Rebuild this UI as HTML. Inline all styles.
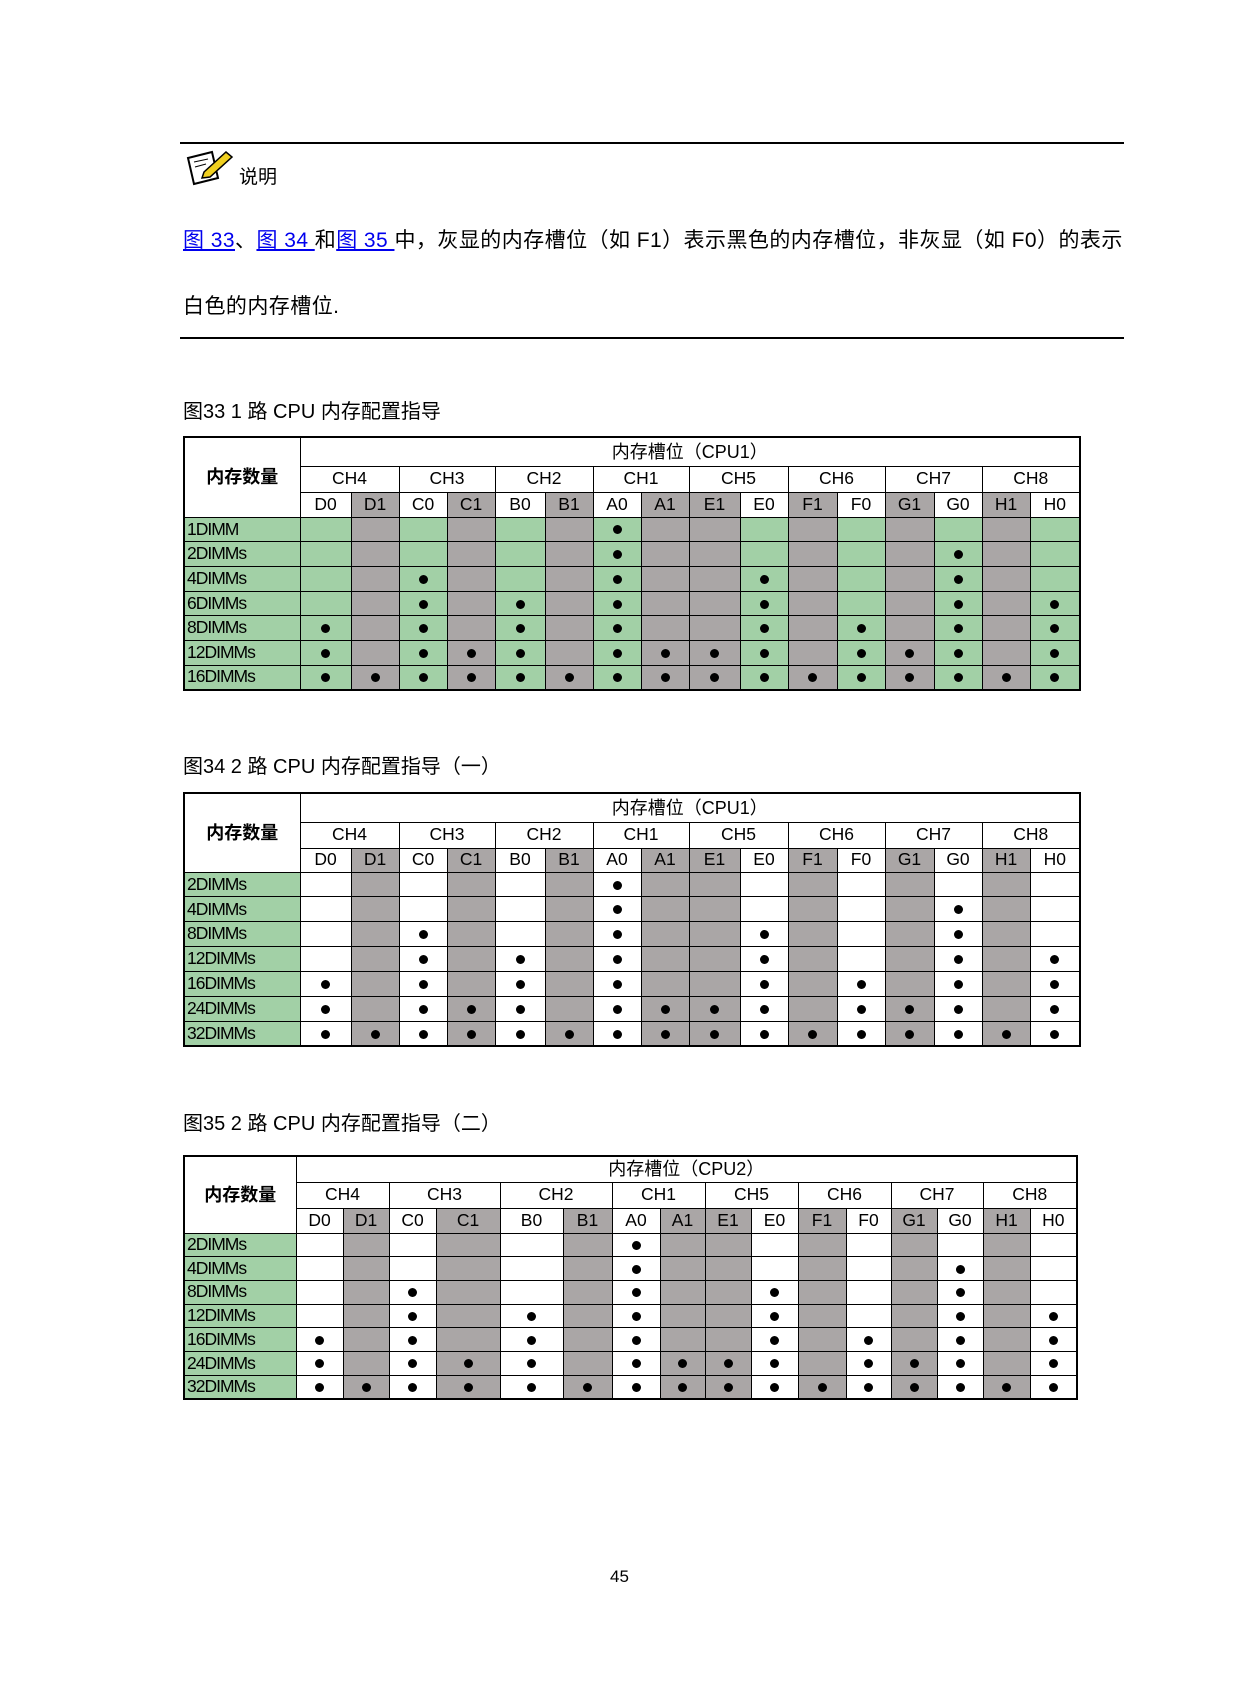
<!DOCTYPE html>
<html><head><meta charset="utf-8">
<style>
html,body{margin:0;padding:0;background:#fff;}
body{width:1240px;height:1683px;position:relative;overflow:hidden;font-family:"Liberation Sans","Noto Sans CJK SC",sans-serif;color:#000;}
.abs{position:absolute;white-space:nowrap;}
.rule{position:absolute;left:180px;width:944px;height:2px;background:#000;}
a{color:#0000ee;text-decoration:underline;}
table{position:absolute;border-collapse:collapse;table-layout:fixed;border:2px solid #000;font-size:17.5px;}
td{border:1.5px solid #000;padding:0;text-align:center;vertical-align:middle;line-height:1;overflow:hidden;white-space:nowrap;}
td.g{background:#aaa6a6;}
td.h{font-weight:bold;font-size:18px;}
td.cpu{font-size:18px;}
.t1 tr.d td{background:#a2d0a6;}
tr.d td:nth-child(3),tr.d td:nth-child(5),tr.d td:nth-child(7),tr.d td:nth-child(9),tr.d td:nth-child(10),tr.d td:nth-child(12),tr.d td:nth-child(14),tr.d td:nth-child(16){background:#aaa6a6 !important;}
tr.d td:first-child{background:#a2d0a6 !important;text-align:left;letter-spacing:-1px;padding-left:2px;}
i{display:inline-block;width:9px;height:9px;border-radius:50%;background:#000;vertical-align:middle;}
</style></head><body>

<div class="rule" style="top:142px"></div>
<svg class="abs" style="left:186px;top:148px" width="50" height="38" viewBox="0 0 50 38">
<polygon points="2,10 26,4 32,30 8,36" fill="#fff" stroke="#000" stroke-width="2"/>
<line x1="8" y1="14" x2="22" y2="11" stroke="#000"/><line x1="9" y1="19" x2="20" y2="16" stroke="#000"/>
<polygon points="18,24 40,4 46,9 24,29 16,30" fill="#f0d020" stroke="#000" stroke-width="1.5"/>
</svg>
<div class="abs" style="left:239px;top:162px;font-size:19px">说明</div>
<div class="abs" style="left:183px;top:224px;font-size:21px;letter-spacing:0.45px"><a>图 33</a>、<a>图 34 </a>和<a>图 35 </a>中，灰显的内存槽位（如 F1）表示黑色的内存槽位，非灰显（如 F0）的表示</div>
<div class="abs" style="left:183px;top:290px;font-size:21px;letter-spacing:0.45px">白色的内存槽位.</div>
<div class="rule" style="top:337px"></div>

<div class="abs" style="left:183px;top:395px;font-size:20px">图33 1 路 CPU 内存配置指导</div>
<table class="t1" style="left:183px;top:436px;width:897px">
<colgroup><col style="width:116px"><col style="width:51px"><col style="width:48px"><col style="width:48px"><col style="width:48px"><col style="width:50px"><col style="width:48px"><col style="width:48px"><col style="width:48px"><col style="width:51px"><col style="width:48px"><col style="width:49px"><col style="width:48px"><col style="width:49px"><col style="width:48px"><col style="width:48px"><col style="width:50px"></colgroup>
<tr style="height:29px"><td rowspan="3" class="h">内存数量</td><td colspan="16" class="cpu">内存槽位（CPU1）</td></tr>
<tr style="height:26px"><td colspan="2">CH4</td><td colspan="2">CH3</td><td colspan="2">CH2</td><td colspan="2">CH1</td><td colspan="2">CH5</td><td colspan="2">CH6</td><td colspan="2">CH7</td><td colspan="2">CH8</td></tr>
<tr style="height:25px"><td>D0</td><td class="g">D1</td><td>C0</td><td class="g">C1</td><td>B0</td><td class="g">B1</td><td>A0</td><td class="g">A1</td><td class="g">E1</td><td>E0</td><td class="g">F1</td><td>F0</td><td class="g">G1</td><td>G0</td><td class="g">H1</td><td>H0</td></tr>
<tr class="d" style="height:24.7px"><td>1DIMM</td><td></td><td></td><td></td><td></td><td></td><td></td><td><i></i></td><td></td><td></td><td></td><td></td><td></td><td></td><td></td><td></td><td></td></tr>
<tr class="d" style="height:24.7px"><td>2DIMMs</td><td></td><td></td><td></td><td></td><td></td><td></td><td><i></i></td><td></td><td></td><td></td><td></td><td></td><td></td><td><i></i></td><td></td><td></td></tr>
<tr class="d" style="height:24.7px"><td>4DIMMs</td><td></td><td></td><td><i></i></td><td></td><td></td><td></td><td><i></i></td><td></td><td></td><td><i></i></td><td></td><td></td><td></td><td><i></i></td><td></td><td></td></tr>
<tr class="d" style="height:24.7px"><td>6DIMMs</td><td></td><td></td><td><i></i></td><td></td><td><i></i></td><td></td><td><i></i></td><td></td><td></td><td><i></i></td><td></td><td></td><td></td><td><i></i></td><td></td><td><i></i></td></tr>
<tr class="d" style="height:24.7px"><td>8DIMMs</td><td><i></i></td><td></td><td><i></i></td><td></td><td><i></i></td><td></td><td><i></i></td><td></td><td></td><td><i></i></td><td></td><td><i></i></td><td></td><td><i></i></td><td></td><td><i></i></td></tr>
<tr class="d" style="height:24.7px"><td>12DIMMs</td><td><i></i></td><td></td><td><i></i></td><td><i></i></td><td><i></i></td><td></td><td><i></i></td><td><i></i></td><td><i></i></td><td><i></i></td><td></td><td><i></i></td><td><i></i></td><td><i></i></td><td></td><td><i></i></td></tr>
<tr class="d" style="height:24.7px"><td>16DIMMs</td><td><i></i></td><td><i></i></td><td><i></i></td><td><i></i></td><td><i></i></td><td><i></i></td><td><i></i></td><td><i></i></td><td><i></i></td><td><i></i></td><td><i></i></td><td><i></i></td><td><i></i></td><td><i></i></td><td><i></i></td><td><i></i></td></tr>
</table>

<div class="abs" style="left:183px;top:750px;font-size:20px">图34 2 路 CPU 内存配置指导（一）</div>
<table class="t2" style="left:183px;top:792px;width:897px">
<colgroup><col style="width:116px"><col style="width:51px"><col style="width:48px"><col style="width:48px"><col style="width:48px"><col style="width:50px"><col style="width:48px"><col style="width:48px"><col style="width:48px"><col style="width:51px"><col style="width:48px"><col style="width:49px"><col style="width:48px"><col style="width:49px"><col style="width:48px"><col style="width:48px"><col style="width:50px"></colgroup>
<tr style="height:29px"><td rowspan="3" class="h">内存数量</td><td colspan="16" class="cpu">内存槽位（CPU1）</td></tr>
<tr style="height:26px"><td colspan="2">CH4</td><td colspan="2">CH3</td><td colspan="2">CH2</td><td colspan="2">CH1</td><td colspan="2">CH5</td><td colspan="2">CH6</td><td colspan="2">CH7</td><td colspan="2">CH8</td></tr>
<tr style="height:24px"><td>D0</td><td class="g">D1</td><td>C0</td><td class="g">C1</td><td>B0</td><td class="g">B1</td><td>A0</td><td class="g">A1</td><td class="g">E1</td><td>E0</td><td class="g">F1</td><td>F0</td><td class="g">G1</td><td>G0</td><td class="g">H1</td><td>H0</td></tr>
<tr class="d" style="height:24.9px"><td>2DIMMs</td><td></td><td></td><td></td><td></td><td></td><td></td><td><i></i></td><td></td><td></td><td></td><td></td><td></td><td></td><td></td><td></td><td></td></tr>
<tr class="d" style="height:24.9px"><td>4DIMMs</td><td></td><td></td><td></td><td></td><td></td><td></td><td><i></i></td><td></td><td></td><td></td><td></td><td></td><td></td><td><i></i></td><td></td><td></td></tr>
<tr class="d" style="height:24.9px"><td>8DIMMs</td><td></td><td></td><td><i></i></td><td></td><td></td><td></td><td><i></i></td><td></td><td></td><td><i></i></td><td></td><td></td><td></td><td><i></i></td><td></td><td></td></tr>
<tr class="d" style="height:24.9px"><td>12DIMMs</td><td></td><td></td><td><i></i></td><td></td><td><i></i></td><td></td><td><i></i></td><td></td><td></td><td><i></i></td><td></td><td></td><td></td><td><i></i></td><td></td><td><i></i></td></tr>
<tr class="d" style="height:24.9px"><td>16DIMMs</td><td><i></i></td><td></td><td><i></i></td><td></td><td><i></i></td><td></td><td><i></i></td><td></td><td></td><td><i></i></td><td></td><td><i></i></td><td></td><td><i></i></td><td></td><td><i></i></td></tr>
<tr class="d" style="height:24.9px"><td>24DIMMs</td><td><i></i></td><td></td><td><i></i></td><td><i></i></td><td><i></i></td><td></td><td><i></i></td><td><i></i></td><td><i></i></td><td><i></i></td><td></td><td><i></i></td><td><i></i></td><td><i></i></td><td></td><td><i></i></td></tr>
<tr class="d" style="height:24.9px"><td>32DIMMs</td><td><i></i></td><td><i></i></td><td><i></i></td><td><i></i></td><td><i></i></td><td><i></i></td><td><i></i></td><td><i></i></td><td><i></i></td><td><i></i></td><td><i></i></td><td><i></i></td><td><i></i></td><td><i></i></td><td><i></i></td><td><i></i></td></tr>
</table>

<div class="abs" style="left:183px;top:1107px;font-size:20px">图35 2 路 CPU 内存配置指导（二）</div>
<table class="t3" style="left:183px;top:1155px;width:893px">
<colgroup><col style="width:112px"><col style="width:47px"><col style="width:46px"><col style="width:47px"><col style="width:64px"><col style="width:63px"><col style="width:49px"><col style="width:48px"><col style="width:45px"><col style="width:46px"><col style="width:47px"><col style="width:48px"><col style="width:45px"><col style="width:46px"><col style="width:46px"><col style="width:47px"><col style="width:47px"></colgroup>
<tr style="height:26px"><td rowspan="3" class="h">内存数量</td><td colspan="16" class="cpu">内存槽位（CPU2）</td></tr>
<tr style="height:26px"><td colspan="2">CH4</td><td colspan="2">CH3</td><td colspan="2">CH2</td><td colspan="2">CH1</td><td colspan="2">CH5</td><td colspan="2">CH6</td><td colspan="2">CH7</td><td colspan="2">CH8</td></tr>
<tr style="height:25px"><td>D0</td><td class="g">D1</td><td>C0</td><td class="g">C1</td><td>B0</td><td class="g">B1</td><td>A0</td><td class="g">A1</td><td class="g">E1</td><td>E0</td><td class="g">F1</td><td>F0</td><td class="g">G1</td><td>G0</td><td class="g">H1</td><td>H0</td></tr>
<tr class="d" style="height:23.7px"><td>2DIMMs</td><td></td><td></td><td></td><td></td><td></td><td></td><td><i></i></td><td></td><td></td><td></td><td></td><td></td><td></td><td></td><td></td><td></td></tr>
<tr class="d" style="height:23.7px"><td>4DIMMs</td><td></td><td></td><td></td><td></td><td></td><td></td><td><i></i></td><td></td><td></td><td></td><td></td><td></td><td></td><td><i></i></td><td></td><td></td></tr>
<tr class="d" style="height:23.7px"><td>8DIMMs</td><td></td><td></td><td><i></i></td><td></td><td></td><td></td><td><i></i></td><td></td><td></td><td><i></i></td><td></td><td></td><td></td><td><i></i></td><td></td><td></td></tr>
<tr class="d" style="height:23.7px"><td>12DIMMs</td><td></td><td></td><td><i></i></td><td></td><td><i></i></td><td></td><td><i></i></td><td></td><td></td><td><i></i></td><td></td><td></td><td></td><td><i></i></td><td></td><td><i></i></td></tr>
<tr class="d" style="height:23.7px"><td>16DIMMs</td><td><i></i></td><td></td><td><i></i></td><td></td><td><i></i></td><td></td><td><i></i></td><td></td><td></td><td><i></i></td><td></td><td><i></i></td><td></td><td><i></i></td><td></td><td><i></i></td></tr>
<tr class="d" style="height:23.7px"><td>24DIMMs</td><td><i></i></td><td></td><td><i></i></td><td><i></i></td><td><i></i></td><td></td><td><i></i></td><td><i></i></td><td><i></i></td><td><i></i></td><td></td><td><i></i></td><td><i></i></td><td><i></i></td><td></td><td><i></i></td></tr>
<tr class="d" style="height:23.7px"><td>32DIMMs</td><td><i></i></td><td><i></i></td><td><i></i></td><td><i></i></td><td><i></i></td><td><i></i></td><td><i></i></td><td><i></i></td><td><i></i></td><td><i></i></td><td><i></i></td><td><i></i></td><td><i></i></td><td><i></i></td><td><i></i></td><td><i></i></td></tr>
</table>

<div class="abs" style="left:610px;top:1567px;font-size:17px">45</div>
</body></html>
